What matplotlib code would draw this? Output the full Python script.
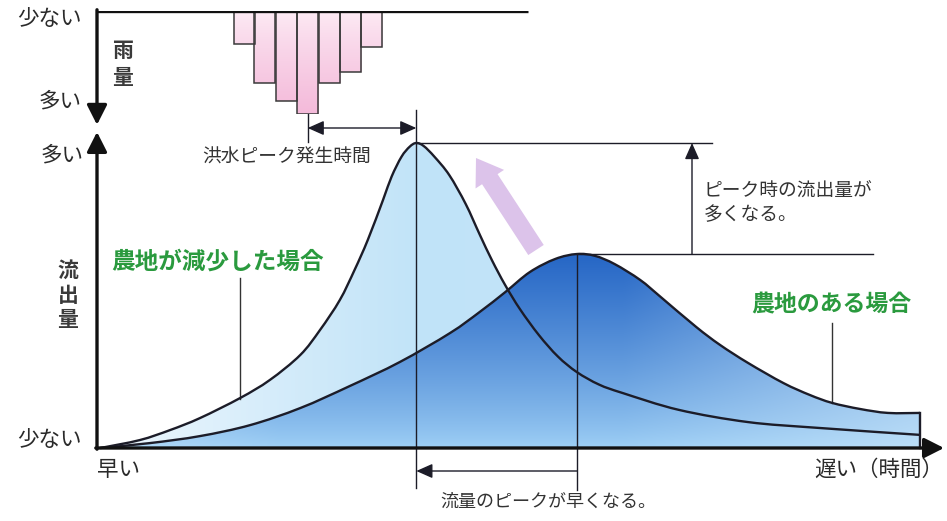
import numpy as np
import matplotlib
matplotlib.use('Agg')
import matplotlib.pyplot as plt
from matplotlib.patches import PathPatch
from matplotlib.path import Path

plt.rcParams['font.family'] = ['Noto Sans CJK JP', 'DejaVu Sans']

# ---------------- data (time 0-100, flow 0-100 relative units) ----------------
time_reduced = [0.4, 5.2, 8.9, 12.5, 17.4, 21.0, 24.7, 27.1, 29.5, 31.3, 32.9, 34.75,
                35.8, 37.0, 38.0, 38.8, 39.7, 41.0, 42.8, 44.8, 46.5, 48.0, 49.6,
                51.4, 53.7, 56.0, 58.3, 61.0, 63.9, 70.7, 79.1, 87.6, 100.0]
flow_reduced = [0.0, 2.6, 5.9, 9.8, 16.4, 22.3, 30.5, 38.7, 48.5, 58.4, 68.2, 81.3,
                89.0, 95.5, 98.8, 100.0, 99.0, 95.5, 89.5, 80.0, 70.0, 61.5, 53.4,
                45.5, 37.0, 30.0, 24.9, 20.8, 18.0, 12.5, 8.5, 6.6, 4.3]

time_farm = [0.4, 6.4, 12.5, 18.6, 24.7, 30.7, 36.8, 42.9, 46.5, 49.6,
             52.6, 55.7, 58.3, 60.5, 62.9, 66.0, 68.5, 72.8, 75.7, 79.1, 83.4,
             86.6, 89.3, 92.7, 96.1, 100.0]
flow_farm = [0.0, 1.6, 3.9, 7.5, 13.1, 20.3, 28.2, 37.7, 44.6, 51.1,
             57.7, 62.0, 63.6, 63.0, 60.3, 55.1, 49.5, 39.7, 33.8, 27.9, 21.3,
             17.4, 14.8, 12.8, 11.5, 11.5]

rain_time = [17.9, 20.4, 23.0, 25.6, 28.2, 30.8, 33.4]
rain_amount = [32, 70, 87, 100, 70, 59, 35]

label_few = '少ない'
label_many = '多い'
label_rain = '雨量'
label_flow = '流出量'
label_early = '早い'
label_late = '遅い（時間）'
label_peak_time = '洪水ピーク発生時間'
label_peak_flow = ['ピーク時の流出量が', '多くなる。']
label_earlier = '流量のピークが早くなる。'
label_reduced = '農地が減少した場合'
label_farm = '農地のある場合'

# ---------------- layout ----------------
W, H = 947, 521
X0, X1 = 97, 920      # pixel span of time 0..100
Y0, Y1 = 448, 143     # pixel span of flow 0..100
SX = (X1 - X0) / 100.0
SY = (Y0 - Y1) / 100.0

fig = plt.figure(figsize=(W / 100, H / 100), dpi=100)
ax = fig.add_axes([0, 0, 1, 1])
ax.axis('off')


def P(x, y):
    return ((x - X0) / SX, (Y0 - y) / SY)


def PX(x):
    return (x - X0) / SX


def PY(y):
    return (Y0 - y) / SY


def smooth(xs, ys, closing=None):
    """Bezier path passing through the read points (Catmull-Rom tangents)."""
    pts = np.column_stack([xs, ys]).astype(float)
    verts = [pts[0]]
    codes = [Path.MOVETO]
    n = len(pts)
    for i in range(n - 1):
        p0 = pts[i - 1] if i > 0 else pts[i]
        p1 = pts[i]
        p2 = pts[i + 1]
        p3 = pts[i + 2] if i + 2 < n else pts[i + 1]
        verts += [p1 + (p2 - p0) / 6.0, p2 - (p3 - p1) / 6.0, p2]
        codes += [Path.CURVE4] * 3
    if closing is not None:
        for c in closing:
            verts.append(np.array(c, float))
            codes.append(Path.LINETO)
        verts.append(pts[0])
        codes.append(Path.CLOSEPOLY)
    return Path(np.array(verts), codes)


TXT = '#2a2a2a'
LINE = '#1c1c28'
GREEN = '#2a9a3e'

# ---------------- fills ----------------
light_patch = PathPatch(smooth(time_reduced, flow_reduced, [(100, 0), (0, 0)]),
                        facecolor='none', edgecolor='none')
ax.add_patch(light_patch)
nx = 300
tt = np.linspace(0, 100, nx)
c_left = np.array([238, 247, 253]) / 255
c_mid = np.array([192, 227, 248]) / 255
c_right = np.array([205, 233, 250]) / 255
grad = np.zeros((2, nx, 3))
for i, t in enumerate(tt):
    if t < 40:
        a = t / 40
        c = c_left + (c_mid - c_left) * a
    else:
        a = (t - 40) / 60
        c = c_mid + (c_right - c_mid) * a
    grad[:, i, :] = c
im = ax.imshow(grad, extent=[0, 100, 0, 105], origin='lower', aspect='auto',
               interpolation='bilinear', zorder=1)
im.set_clip_path(light_patch)

dark_patch = PathPatch(smooth(time_farm, flow_farm, [(100, 0), (0, 0)]),
                       facecolor='none', edgecolor='none')
ax.add_patch(dark_patch)
ny = 200
ff = np.linspace(0, 66, ny)
c_top = np.array([40, 104, 198]) / 255
c_bot = np.array([160, 209, 246]) / 255
c_pale = np.array([212, 236, 251]) / 255
g2 = np.zeros((ny, nx, 3))
for j, f in enumerate(ff):
    v = min(f / 62.0, 1.0) ** 0.8
    base = c_bot + (c_top - c_bot) * v
    for i, t in enumerate(tt):
        l = 0.0
        if t > 64:
            l = min((t - 64) / 36.0, 1.0) * 0.55
        elif t < 22:
            l = (22 - t) / 22.0 * 0.4
        g2[j, i, :] = base + (c_pale - base) * l
im2 = ax.imshow(g2, extent=[0, 100, 0, 66], origin='lower', aspect='auto',
                interpolation='bilinear', zorder=2)
im2.set_clip_path(dark_patch)

# ---------------- guide lines ----------------
il = int(np.argmax(flow_reduced))
idk = int(np.argmax(flow_farm))
t_l, f_l = time_reduced[il], flow_reduced[il]
t_d, f_d = time_farm[idk], flow_farm[idk]

ax.plot([t_l, t_l], [PY(110), PY(488)], color=LINE, lw=1.0, zorder=3)
ax.plot([t_d, t_d], [f_d, PY(490)], color=LINE, lw=1.0, zorder=3)
ax.plot([t_l, PX(712)], [f_l, f_l], color=LINE, lw=1.0, zorder=3)
ax.plot([t_d, PX(873)], [f_d, f_d], color=LINE, lw=1.0, zorder=3)

harrow = dict(arrowstyle='-|>,head_length=0.9,head_width=0.4', color=LINE, lw=1.0,
              shrinkA=0, shrinkB=0, mutation_scale=11)
ax.annotate('', xy=(PX(692), f_l), xytext=(PX(692), f_d), arrowprops=harrow, zorder=3)
ax.annotate('', xy=(t_l, PY(471)), xytext=(t_d, PY(471)), arrowprops=harrow, zorder=3)

# rain peak -> flow peak arrow
t_h = rain_time[int(np.argmax(rain_amount))]
ax.plot([t_h, t_h], [PY(114), PY(142)], color=LINE, lw=1.0, zorder=3)
ax.annotate('', xy=(t_l, PY(128)), xytext=(t_h, PY(128)),
            arrowprops=dict(arrowstyle='<|-|>,head_length=0.9,head_width=0.4', color=LINE,
                            lw=1.0, shrinkA=0, shrinkB=0, mutation_scale=11), zorder=3)

# leader lines
ax.plot([PX(240), PX(240)], [PY(278), PY(399)], color='#333', lw=1.0, zorder=3)
ax.plot([PX(832), PX(832)], [PY(323), PY(403)], color='#333', lw=1.0, zorder=3)

# ---------------- curves ----------------
ax.add_patch(PathPatch(smooth(time_reduced, flow_reduced), facecolor='none',
                       edgecolor=LINE, lw=1.7, zorder=5, joinstyle='round'))
ax.add_patch(PathPatch(smooth(time_farm, flow_farm), facecolor='none',
                       edgecolor=LINE, lw=1.7, zorder=5, joinstyle='round'))
ax.plot([time_farm[-1], time_farm[-1]], [flow_farm[-1], 0], color=LINE, lw=1.7, zorder=5)

# pink arrow
ax.annotate('', xy=P(476, 158), xytext=P(536, 250),
            arrowprops=dict(arrowstyle='simple,head_length=1.3,head_width=1.75,tail_width=0.95',
                            color='#dcc3ea', lw=0, shrinkA=0, shrinkB=0, mutation_scale=14),
            zorder=4)

# ---------------- axes ----------------
axarrow = dict(arrowstyle='-|>,head_length=0.75,head_width=0.38', color='#111', lw=2.4,
               shrinkA=0, shrinkB=0, mutation_scale=16)
ax.annotate('', xy=P(944, 448), xytext=P(95.8, 448), arrowprops=axarrow, zorder=6)
ax.annotate('', xy=P(97, 132), xytext=P(97, 449.2), arrowprops=axarrow, zorder=6)

# rain axes
axr = fig.add_axes([X0 / W, 1 - 114 / H, (X1 - X0) / W, 103 / H])
axr.axis('off')
axr.patch.set_visible(False)
bw = 2.57
bars = axr.bar(rain_time, rain_amount, width=bw, color='none', edgecolor='#3a3a3a',
               lw=1.1, zorder=3)
pink = np.zeros((100, 2, 3))
ptop = np.array([253, 236, 245]) / 255
pbot = np.array([244, 186, 218]) / 255
for j in range(100):
    pink[j, :, :] = ptop + (pbot - ptop) * (j / 99) ** 0.8
for b, x, r in zip(bars, rain_time, rain_amount):
    imb = axr.imshow(pink, extent=[x - bw / 2, x + bw / 2, 100, 0], origin='upper',
                     aspect='auto', interpolation='bilinear', zorder=2)
    imb.set_clip_path(b)
axr.plot([-0.25, 52.4], [0, 0], color='#111', lw=2.4, solid_capstyle='butt', zorder=4)
axr.annotate('', xy=(0, 110.5), xytext=(0, -1.2), arrowprops=axarrow, zorder=4,
             annotation_clip=False)
axr.set_xlim(0, 100)
axr.set_ylim(100, 0)

# ---------------- text ----------------
fs_axis = 15.5
ax.text(*P(82, 19), label_few, ha='right', va='center', fontsize=fs_axis, color=TXT)
ax.text(*P(82, 101), label_many, ha='right', va='center', fontsize=fs_axis, color=TXT)
for k, ch in enumerate(label_rain):
    ax.text(*P(122, 50 + 27 * k), ch, ha='center', va='center', fontsize=15,
            color='#3a3a3a', fontweight='bold')
ax.text(*P(84, 155), label_many, ha='right', va='center', fontsize=fs_axis, color=TXT)
for k, ch in enumerate(label_flow):
    ax.text(*P(68, 270 + 25 * k), ch, ha='center', va='center', fontsize=15,
            color='#3a3a3a', fontweight='bold')
ax.text(*P(82, 440), label_few, ha='right', va='center', fontsize=fs_axis, color=TXT)
ax.text(*P(97, 470), label_early, ha='left', va='center', fontsize=fs_axis, color=TXT)
ax.text(*P(943, 470), label_late, ha='right', va='center', fontsize=fs_axis, color=TXT)

ax.text(*P(202, 157), label_peak_time, ha='left', va='center', fontsize=13.5, color='#333')
ax.text(*P(704, 191), label_peak_flow[0], ha='left', va='center', fontsize=13.5, color='#333')
ax.text(*P(704, 215), label_peak_flow[1], ha='left', va='center', fontsize=13.5, color='#333')
ax.text(*P(440, 502), label_earlier, ha='left', va='center', fontsize=13, color='#333')

ax.text(*P(111, 262), label_reduced, ha='left', va='center', fontsize=17, color=GREEN,
        fontweight='bold')
ax.text(*P(751, 305), label_farm, ha='left', va='center', fontsize=16.5, color=GREEN,
        fontweight='bold')

ax.set_xlim(-X0 / SX, (W - X0) / SX)
ax.set_ylim((Y0 - H) / SY, Y0 / SY)

fig.savefig('out.png', dpi=100, facecolor='white')
